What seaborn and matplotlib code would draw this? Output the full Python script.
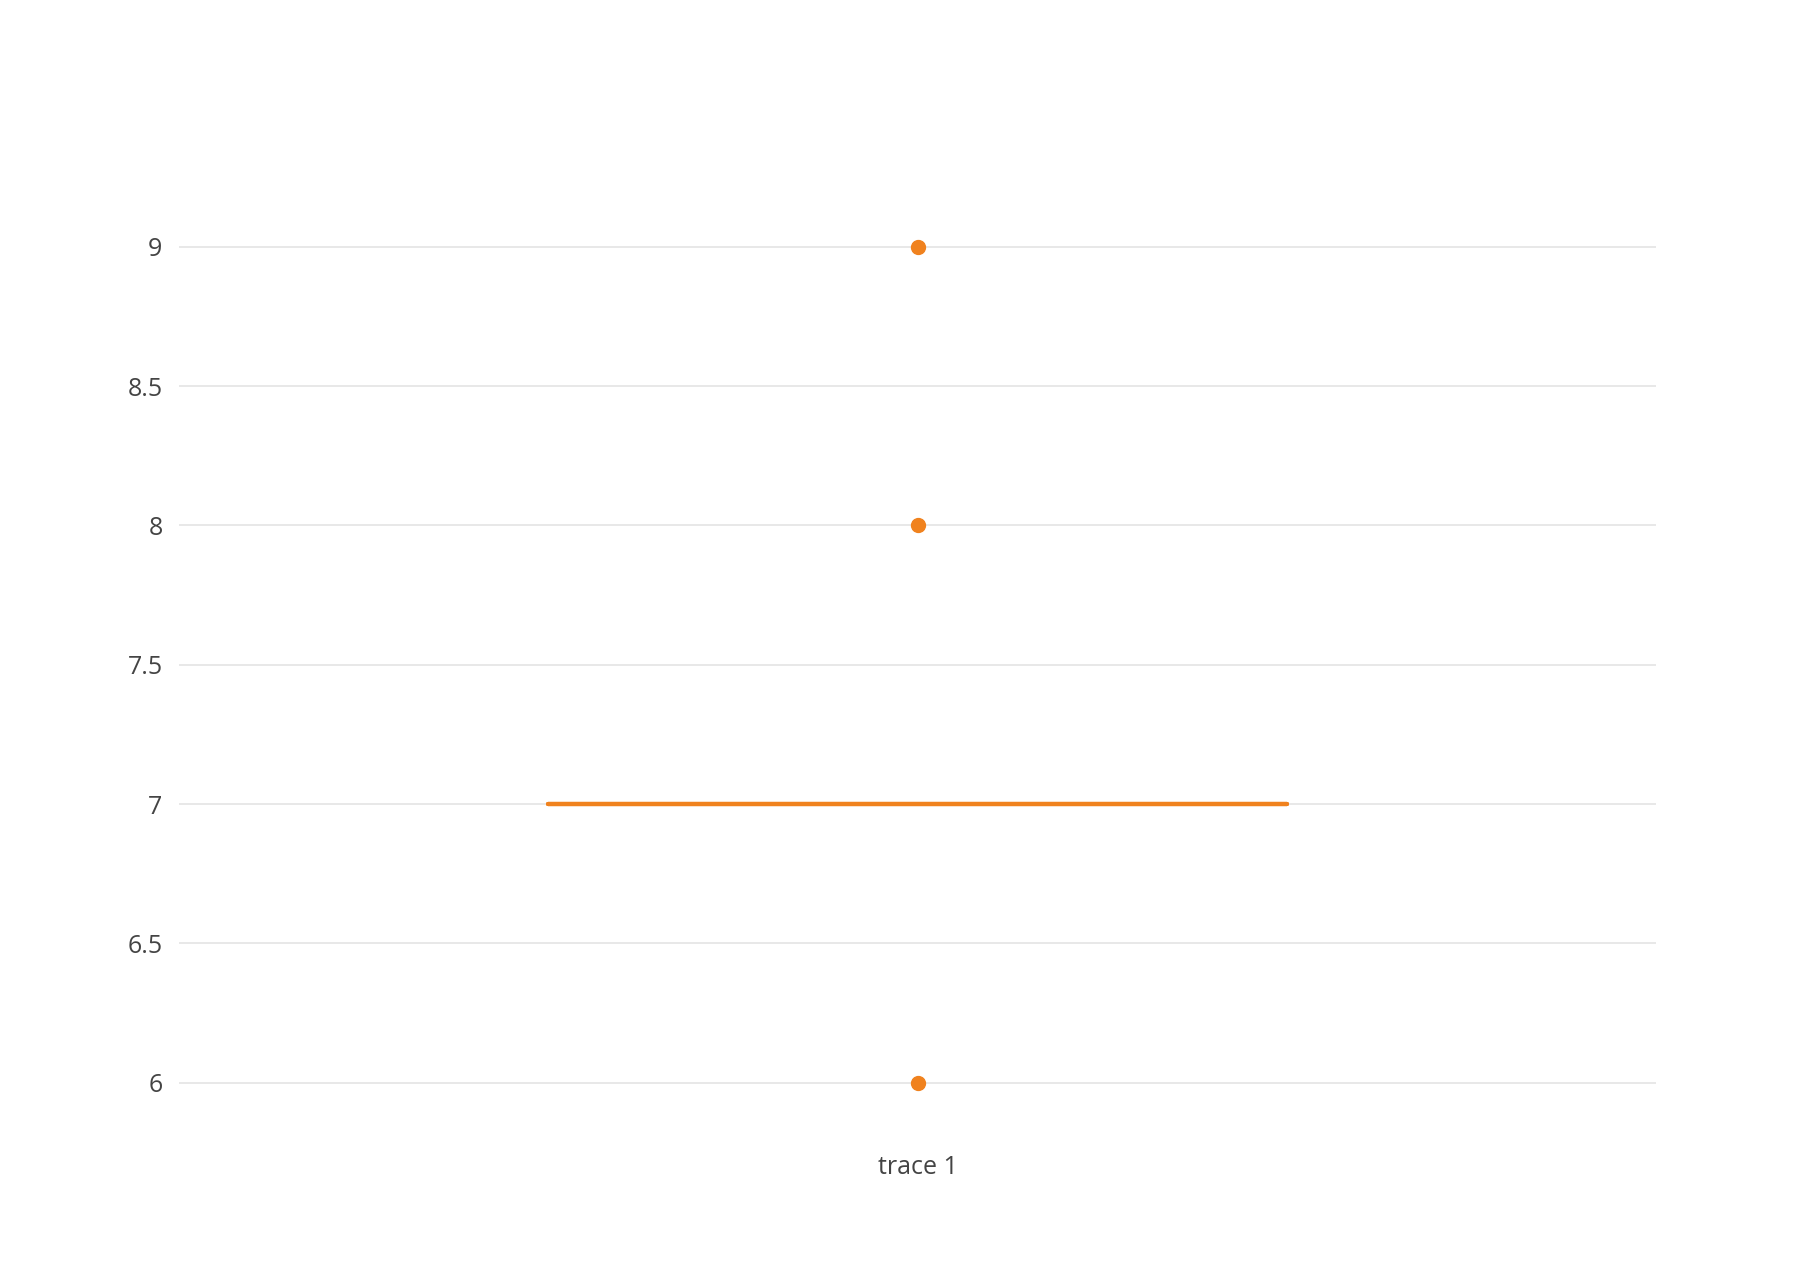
import matplotlib
matplotlib.use("Agg")
import matplotlib.pyplot as plt
import pandas as pd
import seaborn as sns

trace_names = ["trace 1"] * 10
trace_values = [6, 7, 7, 7, 7, 7, 7, 7, 8, 9]

df = pd.DataFrame({"trace": trace_names, "value": trace_values})

sns.set_style("white")
plt.rcParams["font.family"] = ["Open Sans", "DejaVu Sans"]

color = "#f0821e"
fig = plt.figure(figsize=(18.1, 12.84), dpi=100)
ax = fig.add_axes([0.099, 0.09, 0.816, 0.82])

sns.boxplot(
    data=df, x="trace", y="value", ax=ax, width=0.5,
    color=color, fill=False, linewidth=3, whis=0,
    flierprops=dict(marker="o", markersize=10, markerfacecolor=color,
                    markeredgecolor=color),
    showcaps=False,
)

ax.set_xlim(-0.5, 0.5)
ax.set_ylim(5.692, 9.471)
ax.set_yticks([6, 6.5, 7, 7.5, 8, 8.5, 9])
ax.set_yticklabels(["6", "6.5", "7", "7.5", "8", "8.5", "9"])
ax.grid(axis="y", color="#e6e6e6", linewidth=1.3)
ax.set_axisbelow(True)
for s in ax.spines.values():
    s.set_visible(False)
ax.tick_params(axis="both", length=0, labelsize=18, colors="#444444")
ax.tick_params(axis="y", pad=12)
ax.tick_params(axis="x", pad=-10)
ax.set_xlabel("")
ax.set_ylabel("")

fig.savefig("out.png", dpi=100)
